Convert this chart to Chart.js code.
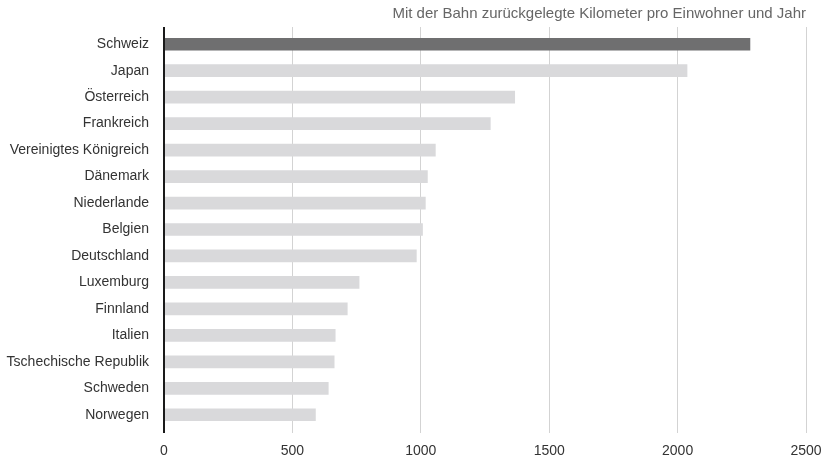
<!DOCTYPE html>
<html>
<head>
<meta charset="utf-8">
<script src="https://cdn.jsdelivr.net/npm/chart.js@4/dist/chart.umd.min.js"></script>
<style>
    html, body { margin: 0; padding: 0; background: #fff; }
    #wrap { width: 832px; height: 460px; }
</style>
</head>
<body>
<div id="wrap"><canvas id="chart"></canvas></div>
<script>
// --- DATEN ---
const countries = [
    "Schweiz", "Japan", "Österreich", "Frankreich", "Vereinigtes Königreich",
    "Dänemark", "Niederlande", "Belgien", "Deutschland", "Luxemburg",
    "Finnland", "Italien", "Tschechische Republik", "Schweden", "Norwegen"
];
const kmPerPerson = [2283, 2038, 1367, 1272, 1058, 1027, 1019, 1008, 984, 761, 715, 668, 664, 641, 591];
const xTicks = [0, 500, 1000, 1500, 2000, 2500];
const highlight = "Schweiz";
const title = "Mit der Bahn zurückgelegte Kilometer pro Einwohner und Jahr";

const FONT = "'Liberation Sans', Arial, Helvetica, sans-serif";

// Gitterlinien: Nulllinie schwarz, Rest hellgrau
const gridColor = ctx => ctx.tick && ctx.tick.value === 0 ? '#1a1a1a' : '#d3d3d3';
const gridWidth = ctx => ctx.tick && ctx.tick.value === 0 ? 2 : 1;

new Chart(document.getElementById('chart'), {
    type: 'bar',
    data: {
        labels: countries,
        datasets: [{
            data: kmPerPerson,
            backgroundColor: countries.map(c => c === highlight ? '#6f6f70' : '#d9d9db'),
            barPercentage: 0.48,
            categoryPercentage: 1
        }]
    },
    options: {
        indexAxis: 'y',
        responsive: true,
        maintainAspectRatio: false,
        animation: false,
        devicePixelRatio: 1,
        layout: { padding: { left: 4, right: 26, top: 0, bottom: 0 } },
        scales: {
            x: {
                type: 'linear',
                position: 'bottom',
                min: xTicks[0],
                max: xTicks[xTicks.length - 1],
                afterBuildTicks: s => { s.ticks = xTicks.map(v => ({ value: v })); },
                afterFit: s => { s.height = 32; },
                ticks: { font: { family: FONT, size: 14 }, color: '#333', padding: 10, callback: v => String(v) },
                grid: { color: gridColor, lineWidth: gridWidth, tickLength: 5 },
                border: { display: false }
            },
            xTop: {
                type: 'linear',
                position: 'top',
                min: xTicks[0],
                max: xTicks[xTicks.length - 1],
                afterBuildTicks: s => { s.ticks = xTicks.map(v => ({ value: v })); },
                afterFit: s => { s.height = 4; },
                ticks: { display: false },
                grid: { color: gridColor, lineWidth: gridWidth, tickLength: 4, drawOnChartArea: false },
                border: { display: false }
            },
            y: {
                afterFit: s => { s.width = 160; },
                ticks: { font: { family: FONT, size: 14 }, color: '#333', padding: 15 },
                grid: { display: false, drawTicks: false },
                border: { display: false }
            }
        },
        plugins: {
            legend: { display: false },
            tooltip: { enabled: false },
            title: {
                display: true,
                text: title,
                align: 'end',
                color: '#666',
                font: { family: FONT, size: 15, weight: 'normal' },
                padding: { top: 5, bottom: 4 }
            }
        }
    }
});
</script>
</body>
</html>
